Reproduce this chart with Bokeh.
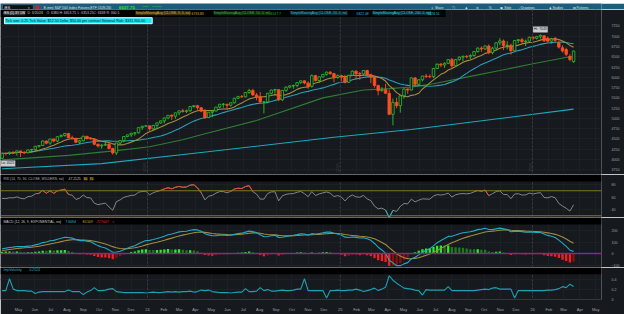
import numpy as np
import pandas as pd
from math import pi
from bokeh.plotting import figure
from bokeh.layouts import column
from bokeh.models import Range1d, FixedTicker, Label, Span, BoxAnnotation, ColumnDataSource
from bokeh.embed import file_html
from bokeh.resources import INLINE

# ---------------- data (weekly /ES bars) ----------------
axis_origin = "2023-03-27"
first_bar = "2023-03-31"          # weekly bars dated by their Friday
opens = [4030,4150,4145,4177,4173,4209,4176,4164,4232,4245,
         4322,4339,4450,4398,4500,4449,4555,4586,4632,4528,
         4514,4420,4456,4565,4507,4500,4370,4330,4350,4370,
         4265,4160,4400,4460,4560,4600,4640,4650,4775,4810,
         4820,4745,4830,4890,4940,5010,5075,5055,5135,5185,
         5170,5187,5290,5310,5260,5175,5020,5150,5180,5275,
         5345,5345,5320,5380,5490,5530,5525,5630,5680,5570,
         5520,5400,5400,5610,5690,5700,5455,5680,5760,5790,
         5800,5870,5915,5860,5780,6040,5920,6010,6070,6125,
         6090,5995,6040,6000,5880,6050,6150,6090,6080,6165,
         6060,6005,5800,5675,5700,5610,5100,5390,5310,5550,
         5715,5690,5985,5830,5940,6030,6020,6015,6215,6320,
         6300,6340,6430,6280,6430,6490,6510,6500,6530,6625,
         6710,6690,6760,6600,6710,6840,6885,6773,6779,6648,
         6894,6915,6872,6879,6975,6950,6985,7010,6950,6880,
         6950,6840,6720,6675,6510,6380]
highs = [4160,4175,4190,4195,4215,4212,4200,4235,4250,4330,
         4340,4465,4460,4500,4505,4560,4610,4640,4650,4580,
         4530,4480,4580,4570,4540,4520,4390,4380,4420,4425,
         4290,4400,4470,4560,4600,4640,4660,4780,4820,4840,
         4830,4840,4900,4950,5020,5080,5100,5140,5185,5230,
         5215,5300,5315,5330,5280,5230,5160,5200,5280,5345,
         5375,5350,5390,5500,5550,5570,5635,5720,5720,5620,
         5640,5420,5620,5700,5720,5710,5690,5780,5800,5820,
         5880,5920,5925,5900,6070,6060,6020,6080,6140,6150,
         6110,6070,6060,6060,6060,6165,6170,6130,6175,6185,
         6090,6010,5820,5760,5840,5700,5480,5500,5570,5730,
         5730,6000,6010,5950,6040,6080,6070,6225,6335,6350,
         6365,6445,6470,6450,6510,6530,6540,6560,6640,6730,
         6750,6780,6800,6740,6850,6950,6920,6880,6820,6910,
         6930,6960,6920,6990,7000,7010,7043,7030,6990,6960,
         6980,6900,6780,6720,6560,6653.75]
lows = [4025,4100,4110,4140,4095,4062.25,4130,4150,4180,4200,
        4290,4330,4370,4360,4415,4420,4540,4555,4520,4490,
        4400,4375,4440,4485,4480,4350,4290,4260,4330,4250,
        4120,4110,4370,4420,4540,4550,4580,4630,4720,4790,
        4700,4720,4760,4870,4880,4980,4960,4990,5080,5140,
        5130,5160,5260,5210,5150,4990,5010,5030,5170,5250,
        5260,5210,5290,5360,5480,5500,5510,5600,5550,5440,
        5370,5120,5370,5580,5600,5420,5420,5650,5730,5720,
        5760,5840,5830,5720,5750,5900,5860,5990,6040,6060,
        5880,5970,5910,5850,5860,6040,5960,5940,6040,6040,
        5860,5750,5560,5650,5600,5080,4832,5250,5140,5480,
        5600,5680,5780,5790,5900,5980,5980,5980,6200,6250,
        6230,6320,6230,6270,6400,6390,6460,6440,6500,6600,
        6620,6660,6560,6560,6650,6780,6660,6680,6550,6640,
        6830,6830,6760,6870,6900,6920,6940,6860,6850,6820,
        6860,6700,6600,6520,6390,6353.25]
closes = [4150,4145,4177,4173,4209,4176,4164,4232,4245,4322,
          4339,4450,4398,4500,4449,4555,4586,4632,4528,4514,
          4420,4456,4565,4507,4500,4370,4330,4350,4370,4265,
          4160,4400,4460,4560,4600,4640,4650,4775,4810,4820,
          4745,4830,4890,4940,5010,5075,5055,5135,5185,5170,
          5187,5290,5310,5260,5175,5020,5150,5180,5275,5345,
          5345,5320,5380,5490,5530,5525,5630,5680,5570,5520,
          5400,5400,5610,5690,5700,5455,5680,5760,5790,5800,
          5870,5915,5860,5780,6040,5920,6010,6070,6125,6090,
          5995,6040,6000,5880,6050,6150,6090,6080,6165,6060,
          6005,5800,5675,5700,5610,5100,5390,5310,5550,5715,
          5690,5985,5830,5940,6030,6020,6015,6215,6320,6300,
          6340,6430,6280,6430,6490,6510,6500,6530,6625,6710,
          6690,6760,6600,6710,6840,6885,6773,6779,6648,6894,
          6915,6872,6879,6975,6950,6990,7020,6890,6880,6930,
          6900,6735,6640,6560,6435,6638]

# slow moving averages (bar index, value)
sma50_weeks = [0, 18, 31, 40, 49, 54, 69, 87, 98, 105, 111, 117, 126, 135, 144, 155]
sma50_vals = [3990, 4100, 4215, 4310, 4480, 4600, 4950, 5500, 5690, 5725, 5765, 5845, 6005, 6165, 6330, 6518]
sma200_weeks = [0, 27, 54, 90, 111, 122, 155]
sma200_vals = [3775, 3900, 4170, 4540, 4730, 4850, 5226]

# implied volatility, weekly
imp_vol = [0.17,0.17,0.41,0.20,0.17,0.17,0.17,0.16,0.16,0.11,
           0.14,0.15,0.15,0.15,0.15,0.15,0.15,0.15,0.18,0.15,
           0.15,0.15,0.09,0.14,0.17,0.23,0.17,0.17,0.18,0.20,
           0.21,0.15,0.14,0.13,0.13,0.13,0.13,0.13,0.13,0.12,
           0.13,0.14,0.13,0.13,0.14,0.15,0.14,0.15,0.14,0.15,
           0.15,0.16,0.14,0.15,0.18,0.17,0.18,0.15,0.14,0.13,
           0.13,0.13,0.12,0.13,0.14,0.14,0.21,0.15,0.15,0.16,
           0.23,0.17,0.19,0.16,0.16,0.17,0.18,0.17,0.17,0.18,
           0.20,0.20,0.41,0.17,0.17,0.17,0.17,0.17,0.02,0.17,
           0.17,0.18,0.17,0.17,0.18,0.18,0.20,0.18,0.15,0.17,
           0.19,0.22,0.17,0.20,0.24,0.47,0.38,0.32,0.27,0.22,
           0.21,0.20,0.18,0.17,0.08,0.19,0.18,0.18,0.18,0.18,
           0.18,0.25,0.17,0.17,0.17,0.17,0.17,0.17,0.17,0.18,
           0.19,0.20,0.19,0.22,0.23,0.20,0.20,0.20,0.20,0.02,
           0.17,0.17,0.17,0.17,0.17,0.17,0.17,0.17,0.18,0.18,
           0.19,0.21,0.25,0.23,0.30,0.2524]

# indicator seeds (state before the first visible bar)
rsi_seed_gain, rsi_seed_loss = 45.0, 33.0
ema12_seed, ema26_seed, signal_seed = 4030.0, 3995.0, 22.0

price_ticks = [3750, 4000, 4250, 4500, 4750, 5000, 5250, 5500, 5750, 6000, 6250, 6500, 6750, 7000, 7250]
rsi_ticks = [40, 60, 80]
macd_ticks = [-100, 0, 100, 200]
iv_ticks = [0, 0.2, 0.4]
iv_tick_labels = ["0", "0.2", "0.4"]
first_month = "2023-05-01"
month_labels = ["May", "Jun", "Jul", "Aug", "Sep", "Oct", "Nov", "Dec",
                "24", "Feb", "Mar", "Apr", "May", "Jun", "Jul", "Aug", "Sep", "Oct", "Nov", "Dec",
                "25", "Feb", "Mar", "Apr", "May", "Jun", "Jul", "Aug", "Sep", "Oct", "Nov", "Dec",
                "26", "Feb", "Mar", "Apr", "May"]
year_marks = ["2024", "2025", "2026"]

# texts shown in headers / tags
hdr_bar = ["/ES (1) 3Y 1W", "D: 3/20/26", "O: 6380", "H: 6653.75", "L: 6353.25", "C: 6638", "R: 300.5"]
sma_names = ["SimpleMovingAvg (CLOSE, 9, 0, no)", "SimpleMovingAvg (CLOSE, 50, 0, no)",
             "SimpleMovingAvg (CLOSE, 20, 0, no)", "SimpleMovingAvg (CLOSE, 200, 0, no)"]
sma_last = [6733.83, 6517.7, 6822.48, 5226.51]
last_price = 6637.75
rsi_last = 47.2125
macd_last = [7.6094, 80.509, -72.9007]
iv_last = 0.2524

# ---------------- styling ----------------
FONT = "Liberation Sans"
BG = "#16191e"
GRID = "#1d2126"
AXT = "#9ea3a8"
UP = "#2fc12f"
DN = "#ff4d1f"
C9, C20, C50, C200 = "#a48f3f", "#2a9fb6", "#2f7d33", "#19aabb"

base = pd.Timestamp(axis_origin)
bars = pd.date_range(first_bar, periods=len(closes), freq="7D")
xd = np.array([(b - base).days for b in bars], dtype=float)
O, H, L, C = (np.array(a, dtype=float) for a in (opens, highs, lows, closes))
month_starts = pd.date_range(first_month, periods=len(month_labels), freq="MS")
month_x = [int((m - base).days) for m in month_starts]
year_x = [int((pd.Timestamp(f"{y}-01-01") - base).days) for y in year_marks]

xr = Range1d(0.9, 1142)
CW = 4.8  # candle body width in days

# ---------------- indicators ----------------
cs = pd.Series(C)
sma9 = cs.rolling(9, min_periods=1).mean().values
sma20 = cs.rolling(20, min_periods=1).mean().values

ag, al = rsi_seed_gain, rsi_seed_loss
rsi = []
for i in range(len(C)):
    if i > 0:
        d = C[i] - C[i - 1]
        ag = (ag * 13 + max(d, 0)) / 14
        al = (al * 13 + max(-d, 0)) / 14
    rsi.append(100 * ag / (ag + al))
rsi = np.array(rsi)
ob_mask = rsi >= 70
ob_ext = ob_mask | np.r_[ob_mask[1:], False] | np.r_[False, ob_mask[:-1]]
rsi_ob = np.where(ob_ext, rsi, np.nan)
os_mask = rsi <= 31
os_ext = os_mask | np.r_[os_mask[1:], False] | np.r_[False, os_mask[:-1]]
rsi_os = np.where(os_ext, rsi, np.nan)

e12, e26, sg = ema12_seed, ema26_seed, signal_seed
macd, sig = [], []
for c in C:
    e12 += (2 / 13) * (c - e12)
    e26 += (2 / 27) * (c - e26)
    m = e12 - e26
    sg += 0.2 * (m - sg)
    macd.append(m)
    sig.append(sg)
macd, sig = np.array(macd), np.array(sig)
diff = macd - sig
hist_col = []
for i, d in enumerate(diff):
    prev = diff[i - 1] if i > 0 else d
    if d >= 0:
        hist_col.append("#22f022" if d >= prev else "#1d7a1d")
    else:
        hist_col.append("#ff1a1a" if d <= prev else "#8a1010")


# ---------------- helpers ----------------
def panel(height, yr, strip_from=None, xaxis=False, bottom=0):
    p = figure(width=624, height=height, x_range=xr, y_range=yr,
               x_axis_location="below" if xaxis else None, y_axis_location="right",
               output_backend="svg", toolbar_location=None,
               min_border_left=0, min_border_right=23, min_border_top=0, min_border_bottom=bottom,
               background_fill_color=BG, border_fill_color=BG, outline_line_color=None)
    p.xgrid.ticker = FixedTicker(ticks=month_x)
    p.grid.grid_line_color = GRID
    p.grid.grid_line_width = 1
    for xx in year_x:
        p.add_layout(Span(location=xx, dimension="height", line_color="#3a3f46",
                          line_dash="2 2", line_width=1))
    if strip_from is not None:
        # black header strip at the top of the panel
        p.add_layout(BoxAnnotation(bottom=strip_from, fill_color="#000000", fill_alpha=1.0,
                                   line_color=None))
    return p


def style_y(p, ticks, overrides=None):
    ax = p.yaxis[0]
    ax.ticker = FixedTicker(ticks=ticks)
    p.ygrid.ticker = FixedTicker(ticks=ticks)
    ax.major_label_text_font_size = "3.6px"
    ax.major_label_text_color = AXT
    ax.major_label_text_font = FONT
    ax.major_tick_line_color = None
    ax.minor_tick_line_color = None
    ax.axis_line_color = None
    ax.major_label_standoff = 4
    if overrides:
        ax.major_label_overrides = overrides


def lab(p, x, y, text, color, size="3.4px", bg=None, xu="data", yu="data", align="left",
        baseline="middle", bold=False, border=None, pad=0, angle=0, xo=0, yo=0):
    kw = dict(x=x, y=y, x_units=xu, y_units=yu, text=text, text_color=color,
              text_font_size=size, text_font=FONT, text_align=align, text_baseline=baseline,
              angle=angle, x_offset=xo, y_offset=yo)
    if bold:
        kw["text_font_style"] = "bold"
    if bg:
        kw["background_fill_color"] = bg
        kw["background_fill_alpha"] = 1.0
    if border:
        kw["border_line_color"] = border
    if pad:
        kw["padding"] = int(pad)
    p.add_layout(Label(**kw))


def slab(p, x, y, text, color, **kw):
    lab(p, x, y, text, color, xu="screen", yu="screen", **kw)


def tag(p, y, text, bg, fg="#101010"):
    lab(p, 602, y, text, fg, size="3.5px", bg=bg, xu="screen", yu="data", pad=1)


def sbox(p, left, right, bottom, top, color, line=None):
    p.add_layout(BoxAnnotation(left=left, right=right, bottom=bottom, top=top,
                               left_units="screen", right_units="screen",
                               bottom_units="screen", top_units="screen",
                               fill_color=color, fill_alpha=1.0, line_color=line))


# ---------------- toolbar ----------------
tb = figure(width=624, height=9, x_range=Range1d(0, 624), y_range=Range1d(0, 9),
            x_axis_location=None, y_axis_location=None, output_backend="svg", toolbar_location=None,
            min_border_left=0, min_border_right=0, min_border_top=0, min_border_bottom=0,
            background_fill_color="#1c5d7c", border_fill_color="#1c5d7c", outline_line_color=None)
tb.grid.visible = False
tb.quad(left=[2], right=[34], bottom=[1.2], top=[7.8], fill_color="#0d1216", line_color="#5d6d78", line_width=0.6)
lab(tb, 4, 4.6, "/ES", "#ffffff", size="3.5px")
lab(tb, 29, 4.6, "\u25be", "#c0c8d0", size="3px")
tb.quad(left=[36.5], right=[40], bottom=[2], top=[7], fill_color="#d42020", line_color=None)
lab(tb, 45, 4.6, "E-mini S&P 500 Index Futures,ETF (JUN 26)", "#d8e4ea", size="3.4px")
lab(tb, 123, 4.7, f"{last_price:.2f}", "#33e233", size="4.4px", bold=True)
lab(tb, 147, 6.0, "+12.50", "#33e233", size="2.1px")
lab(tb, 147, 3.4, "+0.19%", "#33e233", size="2.1px")
lab(tb, 158, 6.0, "B: 6637.5", "#33e233", size="2.1px")
lab(tb, 158, 3.4, "A: 6637.75", "#33e233", size="2.1px")
for x, t in [(447, "\u21ea Share"), (469, "\u2750"), (482, "\u265f"), (494, "\u2699"), (507, "%"),
             (519, "\u25a3 Style"), (539, "\u2215 Drawings"), (569, "\u265f Studies"), (594, "\u25a4 Patterns")]:
    lab(tb, x, 4.6, t, "#d8e4ea", size="3.2px")

# ---------------- main price panel ----------------
pm = panel(165, Range1d(3635, 7650))
style_y(pm, price_ticks)
for xx, yr_txt in zip(year_x, year_marks):
    lab(pm, xx, 3700, yr_txt, "#3b4047", size="4px", angle=pi / 2, baseline="bottom", xo=-1)

pm.line(xd[sma200_weeks], sma200_vals, line_color=C200, line_width=1.1)
pm.line(xd[sma50_weeks], sma50_vals, line_color=C50, line_width=1.1)
pm.line(xd, sma20, line_color=C20, line_width=1.1)
pm.line(xd, sma9, line_color=C9, line_width=1.1)

up = C >= O
for mask, col, fill in [(up, UP, BG), (~up, DN, DN)]:
    src = ColumnDataSource(dict(x=xd[mask], hi=H[mask], lo=L[mask],
                                top=np.maximum(O, C)[mask], bot=np.minimum(O, C)[mask]))
    pm.segment(x0="x", y0="lo", x1="x", y1="hi", source=src, line_color=col, line_width=0.9)
    pm.vbar(x="x", width=CW, top="top", bottom="bot", source=src, fill_color=fill,
            line_color=col, line_width=0.8)

hi_i, lo_i = int(np.argmax(H)), int(np.argmin(L))
lab(pm, xd[hi_i], H[hi_i], f"Hi: {H[hi_i]:g}", "#1a1a1a", bg="#c9cdd1", align="center",
    baseline="bottom", yo=2, pad=1)
lab(pm, xd[lo_i], L[lo_i], f"Lo: {L[lo_i]:g}", "#1a1a1a", bg="#c9cdd1", align="left",
    baseline="top", xo=-2, yo=-2, pad=1)

# header lines over the price panel
sbox(pm, 0, 445, 157.5, 165, "#000000")
hx = [3, 27, 46, 59, 77, 93, 106]
slab(pm, hx[0], 161.3, hdr_bar[0], "#ffffff", bg="#33383e")
for x, t in zip(hx[1:], hdr_bar[1:]):
    slab(pm, x, 161.3, t, "#c8ccd0")
for x, xv, name, val, col, bgc in [(135, 191, sma_names[0], sma_last[0], "#d2b84c", "#3a3212"),
                                   (213, 270, sma_names[1], sma_last[1], "#46b04a", "#0f2a10"),
                                   (290, 356, sma_names[2], sma_last[2], "#36b8d0", "#0b2a31"),
                                   (372, 427, sma_names[3], sma_last[3], "#2cd0e0", "#0b2e33")]:
    slab(pm, x, 161.3, name, col, bg=bgc)
    slab(pm, xv, 161.3, f"{val:g}", col)
slab(pm, 4, 153.8,
     "Tick size: 0.25   Tick Value: $12.50   Delta: $50.00 per contract   Notional Risk: $331,900.00",
     "#06181c", size="3.6px", bg="#1fe3f2", border="#e8ffff", pad=1)

tag(pm, sma_last[2], f"{sma_last[2]:g}", "#1fd8ec")
tag(pm, last_price, f"{last_price:.2f}", "#22c022", fg="#ffffff")
tag(pm, sma_last[3], f"{sma_last[3]:g}", "#1fd8ec")

# ---------------- RSI (7 px header strip + 36 px plot) ----------------
pr = panel(43, Range1d(27.2, 96.0), strip_from=84.8)
style_y(pr, rsi_ticks)
for lv in (70, 30):
    pr.add_layout(Span(location=lv, dimension="width", line_color="#86761f", line_width=1.2))
pr.line(xd, rsi, line_color="#8e9296", line_width=0.9)
pr.line(xd, rsi_ob, line_color="#e0502a", line_width=1)
pr.line(xd, rsi_os, line_color="#22b5c8", line_width=1)
slab(pr, 3, 38.6, "RSI (14, 70, 30, CLOSE, WILDERS, no)", "#b4b8bc")
slab(pr, 68, 38.6, f"{rsi_last:g}", "#c8ccd0")
slab(pr, 83, 38.6, "30", "#e0c020", bg="#3d3410")
slab(pr, 89, 38.6, "70", "#e0c020", bg="#3d3410")
tag(pr, 70, "70", "#d8bc1c")
tag(pr, rsi_last, f"{rsi_last:g}", "#b8bcc0")

# ---------------- MACD (7 px header strip + 43 px plot) ----------------
pmd = panel(50, Range1d(-121.7, 313.1), strip_from=252.2)
style_y(pmd, macd_ticks)
pmd.add_layout(Span(location=0, dimension="width", line_color="#7a2f86", line_width=1.5))
pmd.vbar(x=xd, width=4.4, top=diff, bottom=0, fill_color=hist_col, line_color=None)
pmd.line(xd, sig, line_color="#a28d3e", line_width=1.1)
pmd.line(xd, macd, line_color="#22a9c4", line_width=1.1)
slab(pmd, 3, 45.6, "MACD (12, 26, 9, EXPONENTIAL, no)", "#c8d4d8")
slab(pmd, 65, 45.6, f"{macd_last[0]:g}", "#2ec4dc")
slab(pmd, 82, 45.6, f"{macd_last[1]:g}", "#c8a83a")
slab(pmd, 95, 45.6, f"{macd_last[2]:g}", "#e03030")
slab(pmd, 112, 45.6, "\u25ca", "#b050c0")
tag(pmd, macd_last[1], f"{macd_last[1]:g}", "#c8a828")
tag(pmd, macd_last[0], f"{macd_last[0]:g}", "#1fd8ec")
tag(pmd, macd_last[2], f"{macd_last[2]:g}", "#c41e1e", fg="#ffffff")

# ---------------- implied volatility (strip + plot + date axis + status bar) ----------------
piv = panel(47, Range1d(-0.01, 0.6373), strip_from=0.5, xaxis=True, bottom=14)
style_y(piv, iv_ticks, overrides=dict(zip(iv_ticks, iv_tick_labels)))
piv.line(xd, imp_vol, line_color="#1f9fb2", line_width=1.1)
slab(piv, 3, 29.6, "ImpVolatility", "#2ab3c8")
slab(piv, 29, 29.6, f"{iv_last:g}", "#2ab3c8")
tag(piv, iv_last, f"{iv_last:g}", "#1fd8ec")
xa = piv.xaxis[0]
xa.ticker = FixedTicker(ticks=month_x)
xa.major_label_overrides = dict(zip(month_x, month_labels))
xa.major_label_text_font_size = "4px"
xa.major_label_text_font = FONT
xa.major_label_text_color = AXT
xa.major_tick_line_color = None
xa.minor_tick_line_color = None
xa.axis_line_color = None
xa.major_label_standoff = 1

# status bar under the date axis
sbox(piv, -2, 626, -14, -7, "#1b1f23")
sbox(piv, 3, 265, -12.5, -8.5, "#2b3036")
sbox(piv, 27, 33, -12.5, -8.5, "#4a5058", line="#6a7078")
slab(piv, 541, -10.5, "\u2039 \u203a \u2296 \u2295 \u229e \u2725 \u2197", "#b8bcc0", size="3.4px")
slab(piv, 585, -10.5, "Drawing set: Default", "#c8ccd0", size="3.3px")

layout = column(tb, pm, pr, pmd, piv, spacing=0)
open("out.html", "w").write(file_html(layout, INLINE))
